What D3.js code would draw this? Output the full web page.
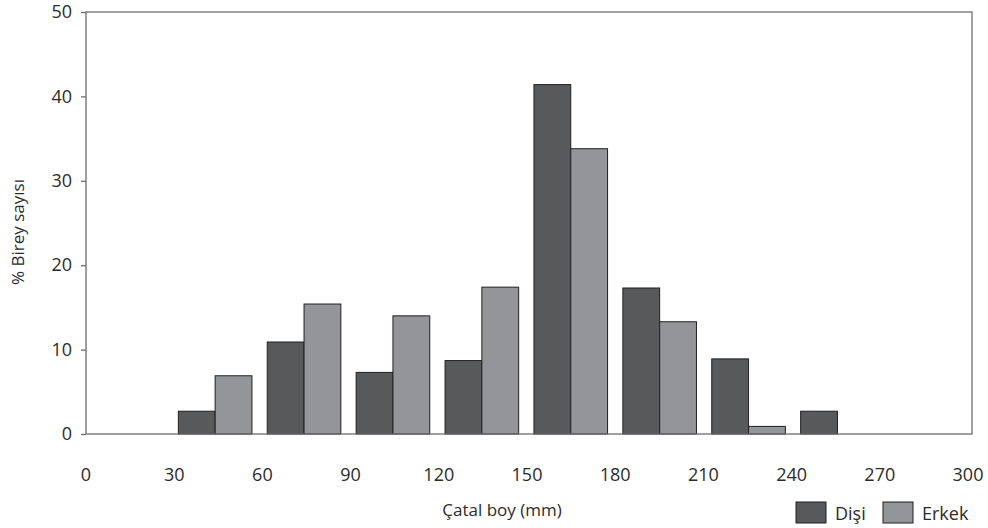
<!DOCTYPE html>
<html>
<head>
<meta charset="utf-8">
<script src="https://cdn.jsdelivr.net/npm/d3@7"></script>
<style>
  body { margin: 0; background: #fff; }
  text { font-family: "Open Sans", "DejaVu Sans", sans-serif; fill: #2b2b2b; }
</style>
</head>
<body>
<div id="chart"></div>
<script>
// length classes (mm), bin starts
var bins = [0, 30, 60, 90, 120, 150, 180, 210, 240, 270];
var disi = [0, 2.7, 10.9, 7.3, 8.7, 41.4, 17.3, 8.9, 2.7, 0];
var erkek = [0, 6.9, 15.4, 14.0, 17.4, 33.8, 13.3, 0.9, 0, 0];
var xTicks = [0, 30, 60, 90, 120, 150, 180, 210, 240, 270, 300];
var yTicks = [0, 10, 20, 30, 40, 50];
var seriesNames = ["Dişi", "Erkek"];

function color(d) {
    if (d === "Dişi") {
        return "#58595b";
    } else {
        return "#939598";
    }
}

var width = 988, height = 528;
var mLeft = 86, mRight = 972, mTop = 12, mBottom = 434;

var svg = d3.select("#chart")
    .append("svg")
    .attr("width", width)
    .attr("height", height);

var y = d3.scaleLinear().domain([0, 50]).range([mBottom, mTop]);
var x = d3.scaleLinear().domain([0, 300]).range([mLeft, 968]);
var xb = d3.scaleBand()
    .domain(bins)
    .range([mLeft, mRight])
    .paddingInner(0.172)
    .paddingOuter(0.069)
    .align(0.28);
var xs = d3.scaleBand().domain(seriesNames).range([0, xb.bandwidth()]);

var rows = [];
bins.forEach(function(b, i) {
    rows.push({bin: b, name: "Dişi", value: disi[i]});
    rows.push({bin: b, name: "Erkek", value: erkek[i]});
});

svg.selectAll("rect.bar")
    .data(rows.filter(function(d) { return d.value > 0; }))
    .enter()
    .append("rect")
    .attr("class", "bar")
    .attr("x", function(d) { return xb(d.bin) + xs(d.name); })
    .attr("y", function(d) { return y(d.value); })
    .attr("width", xs.bandwidth())
    .attr("height", function(d) { return y(0) - y(d.value); })
    .attr("fill", function(d) { return color(d.name); })
    .attr("stroke", "#231f20")
    .attr("stroke-width", 1);

// frame
svg.append("rect")
    .attr("x", mLeft)
    .attr("y", mTop)
    .attr("width", mRight - mLeft)
    .attr("height", mBottom - mTop)
    .attr("fill", "none")
    .attr("stroke", "#6d6e71")
    .attr("stroke-width", 1.3);

var yAxis = svg.append("g")
    .attr("transform", "translate(" + mLeft + ",0)")
    .call(d3.axisLeft(y).tickValues(yTicks).tickSize(5).tickPadding(9));
yAxis.select(".domain").remove();
yAxis.selectAll("line").attr("stroke", "#6d6e71").attr("stroke-width", 1.3);
yAxis.selectAll("text").attr("font-size", "18px").attr("fill", "#2b2b2b")
    .style("font-family", "'Open Sans', sans-serif");

svg.selectAll("text.xtick")
    .data(xTicks)
    .enter()
    .append("text")
    .attr("class", "xtick")
    .attr("x", function(d) { return x(d); })
    .attr("y", 481)
    .attr("text-anchor", "middle")
    .attr("font-size", "18px")
    .text(function(d) { return d; });

svg.append("text")
    .attr("x", 502)
    .attr("y", 516)
    .attr("text-anchor", "middle")
    .attr("font-size", "17px")
    .text("Çatal boy (mm)");

svg.append("text")
    .attr("transform", "translate(24,232) rotate(-90)")
    .attr("text-anchor", "middle")
    .attr("font-size", "17px")
    .text("% Birey sayısı");

// legend
var legendX = [796, 883];
var lg = svg.selectAll("g.legend")
    .data(seriesNames)
    .enter()
    .append("g")
    .attr("class", "legend")
    .attr("transform", function(d, i) { return "translate(" + legendX[i] + ",502)"; });
lg.append("rect")
    .attr("width", 30)
    .attr("height", 21)
    .attr("fill", function(d) { return color(d); })
    .attr("stroke", "#231f20")
    .attr("stroke-width", 1);
lg.append("text")
    .attr("x", 39)
    .attr("y", 18)
    .attr("font-size", "18px")
    .text(function(d) { return d; });
</script>
</body>
</html>
